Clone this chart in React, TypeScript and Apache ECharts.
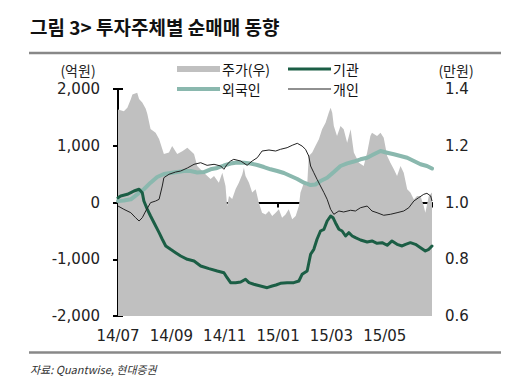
import React, { useEffect, useRef } from "react";
import * as echarts from "echarts";

const X_MAX = 11.77; // months since 2014/07
const xTickLabels = ["14/07", "14/09", "14/11", "15/01", "15/03", "15/05"];

// 주가 (right axis, 만원)
const priceData: [number, number][] = [
  [0.0, 1.328], [0.22, 1.322], [0.35, 1.334], [0.48, 1.364], [0.54, 1.381], [0.72, 1.387], [0.79, 1.365], [0.91, 1.352],
  [1.04, 1.33], [1.1, 1.312], [1.22, 1.259], [1.41, 1.246], [1.54, 1.224], [1.72, 1.171], [1.91, 1.176], [2.03, 1.199],
  [2.22, 1.171], [2.41, 1.181], [2.6, 1.193], [2.85, 1.171], [2.97, 1.129], [3.22, 1.105], [3.47, 1.083], [3.6, 1.093],
  [3.78, 1.07], [3.91, 1.105], [4.03, 1.058], [4.09, 0.988], [4.16, 1.023], [4.28, 1.012], [4.41, 1.048], [4.53, 1.07],
  [4.66, 1.1], [4.72, 1.123], [4.78, 1.093], [4.91, 1.07], [5.03, 1.035], [5.16, 1.047], [5.28, 0.999], [5.4, 0.964],
  [5.53, 0.958], [5.66, 0.97], [5.78, 0.952], [5.91, 0.964], [6.03, 0.976], [6.15, 0.946], [6.28, 0.958], [6.4, 0.976],
  [6.53, 0.941], [6.66, 0.952], [6.78, 0.988], [6.84, 1.035], [6.97, 1.07], [7.09, 1.058], [7.15, 1.164], [7.28, 1.176],
  [7.4, 1.199], [7.53, 1.223], [7.65, 1.258], [7.78, 1.281], [7.9, 1.316], [7.97, 1.334], [8.03, 1.316], [8.09, 1.27],
  [8.21, 1.234], [8.34, 1.27], [8.46, 1.258], [8.59, 1.211], [8.72, 1.258], [8.84, 1.176], [9.03, 1.14], [9.21, 1.129],
  [9.34, 1.176], [9.46, 1.234], [9.52, 1.246], [9.71, 1.234], [9.84, 1.246], [9.96, 1.228], [10.09, 1.164], [10.21, 1.14],
  [10.34, 1.117], [10.46, 1.093], [10.59, 1.129], [10.71, 1.105], [10.84, 1.047], [10.96, 1.035], [11.09, 1.011],
  [11.21, 1.023], [11.34, 1.023], [11.46, 0.988], [11.52, 0.964], [11.65, 1.023], [11.77, 1.035],
];

// 기관 (억원)
const instData: [number, number][] = [
  [0.0, 85], [0.1, 115], [0.35, 144], [0.48, 173], [0.6, 203], [0.79, 233], [0.91, 173], [0.97, 26], [1.1, -120],
  [1.22, -238], [1.35, -356], [1.54, -532], [1.66, -648], [1.79, -766], [1.97, -825], [2.16, -884], [2.35, -943],
  [2.6, -1001], [2.85, -1031], [3.1, -1119], [3.41, -1166], [3.72, -1207], [3.97, -1237], [4.09, -1325], [4.22, -1413],
  [4.41, -1413], [4.6, -1401], [4.78, -1353], [4.91, -1413], [5.09, -1441], [5.34, -1471], [5.59, -1501], [5.78, -1471],
  [5.92, -1454], [6.09, -1424], [6.34, -1413], [6.59, -1413], [6.78, -1383], [6.9, -1265], [7.09, -1207], [7.22, -913],
  [7.34, -825], [7.46, -648], [7.59, -502], [7.72, -472], [7.84, -326], [7.97, -238], [8.06, -268], [8.15, -356],
  [8.28, -472], [8.4, -502], [8.53, -590], [8.65, -532], [8.78, -590], [8.9, -620], [9.09, -661], [9.34, -696],
  [9.52, -678], [9.71, -719], [9.9, -708], [10.09, -754], [10.27, -678], [10.46, -737], [10.65, -766], [10.78, -737],
  [10.96, -708], [11.15, -737], [11.34, -796], [11.52, -855], [11.65, -825], [11.77, -766],
];

// 외국인 (억원)
const foreignData: [number, number][] = [
  [0, 26], [0.22, 35], [0.48, 56], [0.72, 144], [0.97, 233], [1.22, 349], [1.47, 449], [1.72, 502], [1.97, 520],
  [2.22, 537], [2.47, 555], [2.72, 555], [2.97, 529], [3.22, 537], [3.47, 585], [3.72, 608], [3.97, 652], [4.22, 687],
  [4.47, 705], [4.72, 701], [4.97, 687], [5.22, 661], [5.47, 625], [5.72, 585], [5.97, 555], [6.22, 520], [6.47, 467],
  [6.72, 414], [6.97, 349], [7.22, 308], [7.4, 317], [7.59, 379], [7.84, 437], [8.09, 537], [8.34, 643], [8.59, 690],
  [8.84, 722], [9.09, 761], [9.34, 789], [9.59, 849], [9.84, 907], [10.09, 877], [10.34, 849], [10.59, 819],
  [10.84, 789], [11.09, 731], [11.34, 673], [11.58, 643], [11.77, 599],
];

// 개인 (억원)
const retailData: [number, number][] = [
  [0, -62], [0.22, -120], [0.48, -180], [0.66, -268], [0.79, -326], [0.91, -268], [1.04, -150], [1.22, -3], [1.41, 26],
  [1.54, 56], [1.66, 291], [1.72, 437], [1.91, 497], [2.16, 537], [2.35, 555], [2.6, 608], [2.85, 673], [3.1, 701],
  [3.34, 655], [3.6, 673], [3.85, 643], [3.97, 585], [4.09, 673], [4.22, 731], [4.34, 761], [4.6, 731], [4.84, 655],
  [5.03, 731], [5.22, 789], [5.4, 907], [5.66, 925], [5.91, 907], [6.09, 937], [6.34, 966], [6.53, 1008], [6.72, 1043],
  [6.9, 995], [7.03, 937], [7.15, 819], [7.22, 643], [7.34, 525], [7.46, 409], [7.59, 291], [7.72, 173], [7.84, 56],
  [7.97, -120], [8.09, -208], [8.28, -150], [8.46, -167], [8.72, -137], [8.9, -150], [9.09, -92], [9.34, -62],
  [9.52, -150], [9.71, -180], [9.96, -225], [10.21, -208], [10.46, -180], [10.71, -150], [10.9, -92], [11.09, 26],
  [11.27, 85], [11.46, 144], [11.58, 162], [11.72, 115], [11.77, 26],
];

const NUM_FONT = "'DejaVu Sans', sans-serif";
const KR_FONT = "'Noto Sans CJK KR', 'Noto Sans', sans-serif";

const COLOR_PRICE = "#c0c0c0";
const COLOR_FOREIGN = "#8ab8ae";
const COLOR_INST = "#1b5e45";
const COLOR_RETAIL = "#222222";

export default function App() {
  const ref = useRef<HTMLDivElement>(null);
  useEffect(() => {
    document.body.style.margin = "0";
    if (!ref.current) return;
    const chart = echarts.init(ref.current, undefined, { renderer: "svg" });
    const axisLineStyle = { color: "#000", width: 2 };
    const legendItem = (name: string, left: number, top: number, h: number) => ({
      left,
      top,
      itemWidth: 43,
      itemHeight: h,
      padding: 0,
      selectedMode: false,
      icon: "rect",
      textStyle: { fontSize: 14, fontFamily: KR_FONT, color: "#111", lineHeight: 16, padding: [0, 0, 0, -3] },
      data: [{ name }],
    });
    chart.setOption({
      animation: false,
      backgroundColor: "#fff",
      grid: { left: 118, top: 89, width: 314, height: 227 },
      legend: [
        legendItem("주가(우)", 177, 61, 6),
        legendItem("기관", 288, 61, 3),
        legendItem("외국인", 177, 81, 4),
        legendItem("개인", 288, 81, 1),
      ],
      xAxis: [
        {
          type: "value", min: 0, max: X_MAX, interval: 2, position: "bottom",
          axisLine: { show: false, onZero: false }, axisTick: { show: false }, splitLine: { show: false },
          axisLabel: {
            margin: 12, fontSize: 15, fontFamily: NUM_FONT, color: "#222",
            formatter: (v: number) => {
              const i = Math.round(v / 2);
              return Math.abs(v - i * 2) < 1e-6 && i < xTickLabels.length ? xTickLabels[i] : "";
            },
          },
        },
        {
          type: "value", min: 0, max: X_MAX, interval: 2, position: "bottom",
          axisLine: { show: true, onZero: true, lineStyle: axisLineStyle },
          axisTick: { show: true, length: 5, lineStyle: axisLineStyle },
          axisLabel: { show: false }, splitLine: { show: false },
        },
      ],
      yAxis: [
        {
          type: "value", min: -2000, max: 2000, interval: 1000, position: "left",
          axisLine: { show: true, lineStyle: axisLineStyle },
          axisTick: { show: true, length: 5, lineStyle: axisLineStyle },
          splitLine: { show: false },
          axisLabel: {
            margin: 18, fontSize: 15, fontFamily: NUM_FONT, color: "#222",
            formatter: (v: number) => v.toLocaleString("en-US"),
          },
        },
        {
          type: "value", min: 0.6, max: 1.4, interval: 0.2, position: "right",
          axisLine: { show: true, lineStyle: axisLineStyle },
          axisTick: { show: true, length: 5, lineStyle: axisLineStyle },
          splitLine: { show: false },
          axisLabel: {
            margin: 13, fontSize: 15, fontFamily: NUM_FONT, color: "#222",
            formatter: (v: number) => v.toFixed(1),
          },
        },
      ],
      series: [
        {
          name: "주가(우)", type: "line", yAxisIndex: 1, data: priceData, symbol: "none", z: 1,
          lineStyle: { width: 0 }, itemStyle: { color: COLOR_PRICE },
          areaStyle: { color: COLOR_PRICE, opacity: 1, origin: "start" },
        },
        {
          name: "외국인", type: "line", data: foreignData, symbol: "none", z: 3,
          itemStyle: { color: COLOR_FOREIGN }, lineStyle: { color: COLOR_FOREIGN, width: 4, cap: "round", join: "round" },
        },
        {
          name: "기관", type: "line", data: instData, symbol: "none", z: 4,
          itemStyle: { color: COLOR_INST }, lineStyle: { color: COLOR_INST, width: 3, cap: "round", join: "round" },
        },
        {
          name: "개인", type: "line", data: retailData, symbol: "none", z: 5,
          itemStyle: { color: COLOR_RETAIL }, lineStyle: { color: COLOR_RETAIL, width: 1 },
        },
      ],
      graphic: [
        {
          type: "text", left: 30, top: 17,
          style: { text: "그림 3> 투자주체별 순매매 동향", fontSize: 19, fontWeight: "bold", fontFamily: KR_FONT, fill: "#111" },
        },
        { type: "line", shape: { x1: 29, y1: 53, x2: 501, y2: 53 }, style: { stroke: "#888", lineWidth: 2.5 } },
        { type: "line", shape: { x1: 29, y1: 352.5, x2: 501, y2: 352.5 }, style: { stroke: "#888", lineWidth: 2.5 } },
        {
          type: "text", x: 78, y: 70,
          style: { text: "(억원)", fontSize: 14, fontFamily: KR_FONT, fill: "#222", align: "center", verticalAlign: "middle" },
        },
        {
          type: "text", x: 456, y: 70,
          style: { text: "(만원)", fontSize: 14, fontFamily: KR_FONT, fill: "#222", align: "center", verticalAlign: "middle" },
        },
        {
          type: "text", x: 30, y: 369,
          style: { text: "자료: Quantwise, 현대증권", fontSize: 11, fontStyle: "italic", fontFamily: KR_FONT, fill: "#333", verticalAlign: "middle" },
        },
      ],
    });
    return () => chart.dispose();
  }, []);
  return <div ref={ref} style={{ width: 516, height: 387 }} />;
}
